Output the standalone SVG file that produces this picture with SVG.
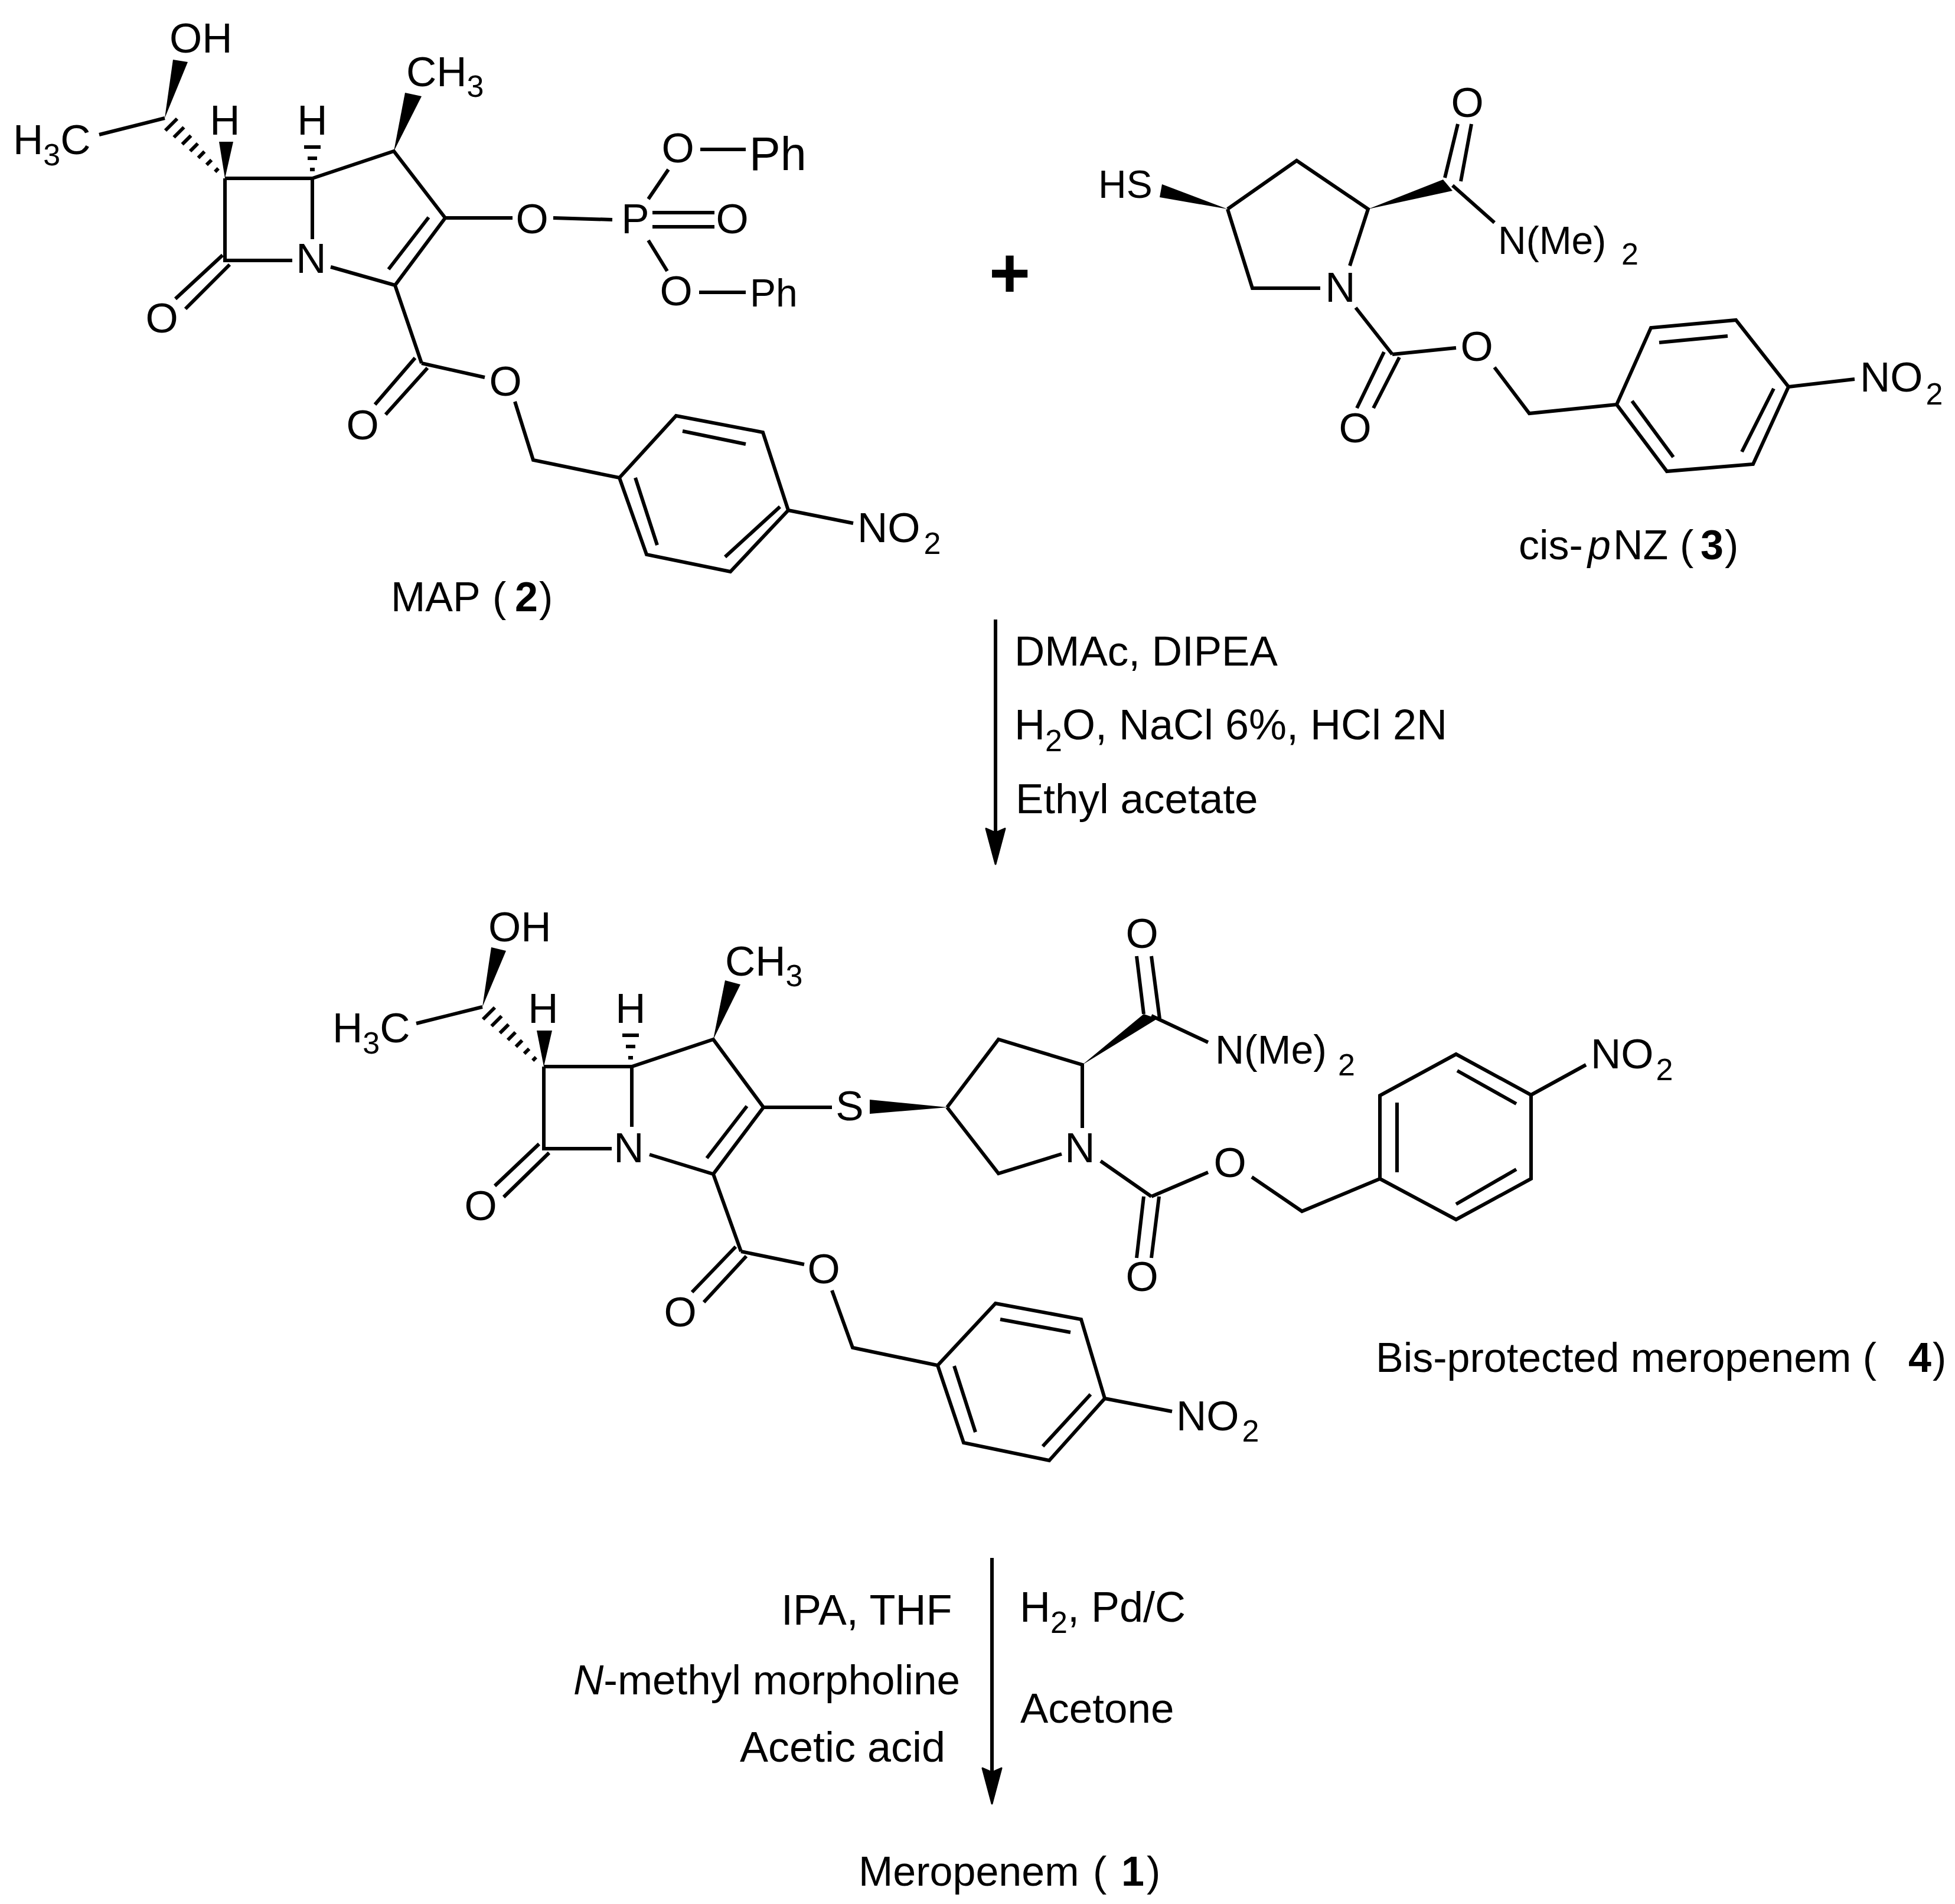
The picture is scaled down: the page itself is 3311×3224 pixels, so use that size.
<svg xmlns="http://www.w3.org/2000/svg" xmlns:xlink="http://www.w3.org/1999/xlink" width="3311" height="3224" viewBox="0 0 3311 3224">
<style>
text{font-family:"Liberation Sans",Arial,sans-serif;font-size:71px;fill:#000}
.m{text-anchor:middle}
.c{font-size:72px}
.cap{font-size:70px}
.b{font-weight:700}
.i{font-style:italic}
.s{font-size:52px}
path.l,line{fill:none;stroke:#000;stroke-width:6;stroke-linecap:butt;stroke-linejoin:miter}
.w{fill:#000;stroke:none}
.ah{fill:#000;stroke:#000;stroke-width:3;stroke-linejoin:round}
</style>
<defs>
<g id="hash-side">
<line x1="280" y1="221" x2="300" y2="201"/><line x1="294.500" y1="232.500" x2="311.500" y2="215.500"/><line x1="308.600" y1="244.400" x2="323.400" y2="229.600"/><line x1="322" y1="256" x2="335" y2="243"/><line x1="335.700" y1="267.300" x2="346.300" y2="256.700"/><line x1="349.800" y1="279.200" x2="358.200" y2="270.800"/><line x1="364.200" y1="290.800" x2="369.800" y2="285.200"/>
</g>
<g id="hash-h">
<line x1="-14" y1="0" x2="14" y2="0"/><line x1="-8" y1="19" x2="8" y2="19"/><line x1="-4" y1="38" x2="4" y2="38"/>
</g>
<marker id="head" markerUnits="userSpaceOnUse" markerWidth="70" markerHeight="40" refX="32" refY="20" orient="auto" viewBox="0 0 70 40"><polygon class="ah" points="62,20 2,4 9,20 2,36"/></marker>
</defs>
<rect width="3311" height="3224" fill="#fff"/>

<g id="map-2">
<path class="l" d="M168 228L279 200M381 302H529M529 302L667 256L754 369L669 483L560 452M529 302V405M381 302V441H495M726 368L658 456M377 432L297 506M389 448L314 523M754 369H868M937 369L1037 372M1105 360H1210M1105 384H1210M1098 337L1132 287M1186 253H1263M1098 407L1130 459M1184 495H1263M669 483L714 615M703 606L635 685M724 623L653 702M714 615L821 639M872 680L903 779L1049 809L1145 704L1292 732L1335 864L1237 968L1095 939L1049 809M1156 730L1263 752M1076 809L1113 923M1321 858L1228 943M1335 864L1445 886"/>
<polygon class="w" points="279,200 293,101 318,105"/>
<polygon class="w" points="381,302 371,240 395,240"/>
<polygon class="w" points="667,256 686,157 714,163"/>
<use xlink:href="#hash-side" href="#hash-side"/>
<use xlink:href="#hash-h" href="#hash-h" x="529" y="249"/>
<text x="287" y="89">OH</text>
<text x="22" y="261">H<tspan class="s" dy="19">3</tspan><tspan dy="-19">C</tspan></text>
<text class="m" x="381" y="228">H</text>
<text class="m" x="529" y="228">H</text>
<text x="688" y="146">CH<tspan class="s" dy="18">3</tspan></text>
<text class="m" x="527" y="462">N</text>
<text class="m" x="274" y="563">O</text>
<text class="m" x="901" y="395">O</text>
<text class="m" x="1076" y="395">P</text>
<text class="m" x="1240" y="395">O</text>
<text class="m" x="1148" y="275">O</text>
<text x="1269" y="288" style="font-size:79px">Ph</text>
<text class="m" x="1145" y="517">O</text>
<text x="1270" y="519" style="font-size:66px">Ph</text>
<text class="m" x="614" y="744">O</text>
<text class="m" x="856" y="670">O</text>
<text x="1452" y="918">NO<tspan class="s" dx="6" dy="20">2</tspan></text>
<text class="cap" x="662" y="1035">MAP <tspan x="834">(</tspan><tspan class="b" x="872">2</tspan><tspan x="913">)</tspan></text>
</g>

<g id="plus"><text class="b m" x="1710" y="504" style="font-size:120px">+</text></g>

<g id="cis-pnz-3">
<path class="l" d="M2079 354L2196 272L2317 354L2286 450M2079 354L2121 488H2236M2447 301L2469 210M2474 307L2492 210M2460 314L2531 377M2296 521L2358 600M2344 596L2298 691M2370 605L2326 691M2358 600L2466 589M2531 622L2590 700L2738 685L2796 555L2940 542L3029 655L2969 786L2823 798L2738 685M2810 580L2926 569M3004 658L2950 765M2834 774L2764 679M3029 655L3141 642"/>
<polygon class="w" points="2079,354 1968,312 1964,334"/>
<polygon class="w" points="2317,354 2444,304 2460,323"/>
<text x="1860" y="335" style="font-size:66px">HS</text>
<text class="m" x="2270" y="511">N</text>
<text class="m" x="2485" y="198">O</text>
<text x="2537" y="430" style="font-size:66px">N(Me)</text>
<text class="s" x="2746" y="448">2</text>
<text class="m" x="2295" y="749">O</text>
<text class="m" x="2501" y="611">O</text>
<text x="3150" y="663">NO<tspan class="s" dx="5" dy="22">2</tspan></text>
<text class="cap" x="2572" y="947">cis-<tspan class="i" x="2689">p</tspan><tspan x="2732">NZ</tspan><tspan x="2845">(</tspan><tspan class="b" x="2880">3</tspan><tspan x="2921">)</tspan></text>
</g>

<g id="bis-protected-4">
<path class="l" d="M705 1733L817 1705M921 1806H1070L1208 1760L1293 1875L1208 1988L1100 1955M1070 1806V1908M921 1806V1945H1036M1265 1873L1197 1961M913 1937L838 2008M930 1952L853 2027M1293 1875H1409M1604 1875L1691 1760L1833 1803V1910M1604 1875L1691 1987L1798 1954M1937 1717L1925 1619M1964 1725L1950 1619M1950 1720L2046 1765M1864 1966L1950 2026M1937 2026L1925 2130M1963 2026L1950 2130M1950 2026L2046 1985M2120 1993L2205 2051L2337 1996V1855L2466 1785L2593 1854V1996L2466 2065L2337 1996M2366 1867V1985M2468 1813L2568 1869M2568 1980L2466 2039M2593 1854L2686 1803M1208 1988L1255 2119M1246 2111L1172 2188M1264 2127L1192 2205M1255 2119L1362 2141M1409 2185L1444 2282L1588 2312L1686 2207L1831 2234L1871 2368L1777 2473L1632 2443L1588 2312M1694 2234L1813 2256M1616 2313L1652 2425M1847 2361L1766 2449M1871 2368L1985 2390"/>
<polygon class="w" points="817,1705 832,1604 857,1610"/>
<polygon class="w" points="921,1806 909,1745 935,1745"/>
<polygon class="w" points="1208,1760 1228,1660 1254,1667"/>
<polygon class="w" points="1605,1875 1473,1862 1473,1886"/>
<polygon class="w" points="1833,1803 1937,1717 1960,1725"/>
<use xlink:href="#hash-side" href="#hash-side" x="538" y="1505"/>
<use xlink:href="#hash-h" href="#hash-h" x="1068" y="1753"/>
<text x="827" y="1594">OH</text>
<text x="563" y="1765">H<tspan class="s" dy="19">3</tspan><tspan dy="-19">C</tspan></text>
<text class="m" x="920" y="1732">H</text>
<text class="m" x="1068" y="1732">H</text>
<text x="1228" y="1652">CH<tspan class="s" dy="18">3</tspan></text>
<text class="m" x="1065" y="1968">N</text>
<text class="m" x="814" y="2066">O</text>
<text class="m" x="1439" y="1897">S</text>
<text class="m" x="1829" y="1968">N</text>
<text class="m" x="1934" y="1605">O</text>
<text x="2058" y="1801" style="font-size:68px">N(Me)</text>
<text class="s" x="2266" y="1821">2</text>
<text class="m" x="1934" y="2186">O</text>
<text class="m" x="2083" y="1993">O</text>
<text x="2694" y="1809">NO<tspan class="s" dx="4" dy="20">2</tspan></text>
<text class="m" x="1152" y="2246">O</text>
<text class="m" x="1395" y="2173">O</text>
<text x="1992" y="2422">NO<tspan class="s" dx="5" dy="19">2</tspan></text>
<text class="cap" x="2330" y="2323">Bis-protected meropenem (<tspan class="b" x="3232">4</tspan><tspan x="3273">)</tspan></text>
</g>

<g id="connectors">
<line x1="1686" y1="1049" x2="1686" y2="1433" marker-end="url(#head)"/>
<line x1="1680" y1="2638" x2="1680" y2="3024" marker-end="url(#head)"/>
</g>

<g id="conditions-1">
<text x="1718" y="1127">DMAc, DIPEA</text>
<text class="c" x="1718" y="1252">H<tspan class="s" dy="20">2</tspan><tspan dy="-20">O, NaCl 6%, HCl 2N</tspan></text>
<text x="1720" y="1377">Ethyl acetate</text>
</g>
<g id="conditions-2">
<text class="c" x="1323" y="2751">IPA, THF</text>
<text x="971" y="2869"><tspan class="i">N</tspan>-methyl morpholine</text>
<text class="c" x="1253" y="2983">Acetic acid</text>
<text class="c" x="1727" y="2746">H<tspan class="s" dy="19">2</tspan><tspan dy="-19">, Pd/C</tspan></text>
<text x="1728" y="2917">Acetone</text>
</g>
<g id="meropenem-1">
<text class="cap" x="1454" y="3193">Meropenem <tspan x="1851">(</tspan><tspan class="b" x="1899">1</tspan><tspan x="1942">)</tspan></text>
</g>
</svg>
